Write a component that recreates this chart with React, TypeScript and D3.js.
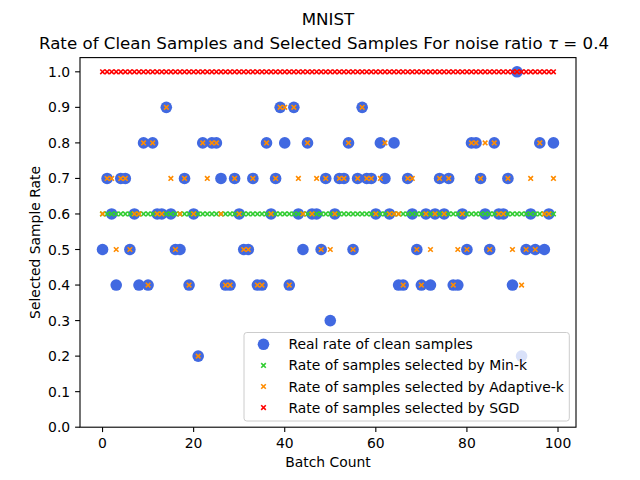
import React from 'react';
import * as d3 from 'd3';

// Real rate of clean samples per batch (null = no point drawn)
const realRate: (number | null)[] = [
  0.5, 0.7, 0.6, 0.4, 0.7, 0.7, 0.5, 0.6, 0.4, 0.8,
  0.4, 0.8, 0.6, 0.6, 0.9, 0.6, 0.5, 0.5, 0.7, 0.4,
  0.6, 0.2, 0.8, null, 0.8, 0.8, 0.7, 0.4, 0.4, 0.7,
  0.6, 0.5, 0.5, 0.7, 0.4, 0.4, 0.8, 0.6, 0.7, 0.9,
  0.8, 0.4, 0.9, 0.6, 0.5, 0.8, 0.6, 0.6, 0.5, 0.7,
  0.3, 0.6, 0.7, 0.7, 0.8, 0.5, 0.7, 0.9, 0.7, 0.7,
  0.6, 0.8, 0.7, 0.6, 0.8, 0.4, 0.4, 0.7, 0.6, 0.5,
  0.4, 0.6, 0.4, 0.6, 0.7, 0.6, 0.7, 0.4, 0.4, 0.6,
  0.5, 0.8, 0.8, 0.7, 0.6, 0.5, 0.8, 0.6, 0.6, 0.7,
  0.4, 1.0, 0.2, 0.5, 0.6, 0.5, 0.8, 0.5, 0.6, 0.8,
];

const minKRate: number[] = [
  0.6, 0.6, 0.6, 0.6, 0.6, 0.6, 0.6, 0.6, 0.6, 0.6,
  0.6, 0.6, 0.6, 0.6, 0.6, 0.6, 0.6, 0.6, 0.6, 0.6,
  0.6, 0.6, 0.6, 0.6, 0.6, 0.6, 0.6, 0.6, 0.6, 0.6,
  0.6, 0.6, 0.6, 0.6, 0.6, 0.6, 0.6, 0.6, 0.6, 0.6,
  0.6, 0.6, 0.6, 0.6, 0.6, 0.6, 0.6, 0.6, 0.6, 0.6,
  0.6, 0.6, 0.6, 0.6, 0.6, 0.6, 0.6, 0.6, 0.6, 0.6,
  0.6, 0.6, 0.6, 0.6, 0.6, 0.6, 0.6, 0.6, 0.6, 0.6,
  0.6, 0.6, 0.6, 0.6, 0.6, 0.6, 0.6, 0.6, 0.6, 0.6,
  0.6, 0.6, 0.6, 0.6, 0.6, 0.6, 0.6, 0.6, 0.6, 0.6,
  0.6, 0.6, 0.6, 0.6, 0.6, 0.6, 0.6, 0.6, 0.6, 0.6,
];

const adaptiveKRate: number[] = [
  0.6, 0.7, 0.7, 0.5, 0.7, 0.7, 0.5, 0.6, 0.6, 0.8,
  0.4, 0.8, 0.6, 0.6, 0.9, 0.7, 0.5, 0.6, 0.7, 0.4,
  0.6, 0.2, 0.8, 0.7, 0.8, 0.8, 0.6, 0.4, 0.4, 0.7,
  0.6, 0.5, 0.5, 0.7, 0.4, 0.4, 0.8, 0.6, 0.7, 0.9,
  0.9, 0.4, 0.9, 0.7, 0.6, 0.8, 0.6, 0.7, 0.5, 0.7,
  0.5, 0.6, 0.7, 0.7, 0.8, 0.5, 0.7, 0.9, 0.7, 0.7,
  0.6, 0.7, 0.8, 0.6, 0.6, 0.6, 0.4, 0.7, 0.7, 0.5,
  0.4, 0.6, 0.5, 0.6, 0.7, 0.6, 0.7, 0.4, 0.5, 0.6,
  0.5, 0.8, 0.8, 0.7, 0.8, 0.5, 0.8, 0.6, 0.6, 0.7,
  0.5, 1.0, 0.4, 0.5, 0.7, 0.5, 0.8, 0.6, 0.6, 0.7,
];

const sgdRate: number[] = [
  1.0, 1.0, 1.0, 1.0, 1.0, 1.0, 1.0, 1.0, 1.0, 1.0,
  1.0, 1.0, 1.0, 1.0, 1.0, 1.0, 1.0, 1.0, 1.0, 1.0,
  1.0, 1.0, 1.0, 1.0, 1.0, 1.0, 1.0, 1.0, 1.0, 1.0,
  1.0, 1.0, 1.0, 1.0, 1.0, 1.0, 1.0, 1.0, 1.0, 1.0,
  1.0, 1.0, 1.0, 1.0, 1.0, 1.0, 1.0, 1.0, 1.0, 1.0,
  1.0, 1.0, 1.0, 1.0, 1.0, 1.0, 1.0, 1.0, 1.0, 1.0,
  1.0, 1.0, 1.0, 1.0, 1.0, 1.0, 1.0, 1.0, 1.0, 1.0,
  1.0, 1.0, 1.0, 1.0, 1.0, 1.0, 1.0, 1.0, 1.0, 1.0,
  1.0, 1.0, 1.0, 1.0, 1.0, 1.0, 1.0, 1.0, 1.0, 1.0,
  1.0, 1.0, 1.0, 1.0, 1.0, 1.0, 1.0, 1.0, 1.0, 1.0,
];

const xTicks = [0, 20, 40, 60, 80, 100];
const yTicks = [0.0, 0.1, 0.2, 0.3, 0.4, 0.5, 0.6, 0.7, 0.8, 0.9, 1.0];

const legendLabels = [
  'Real rate of clean samples',
  'Rate of samples selected by Min-k',
  'Rate of samples selected by Adaptive-k',
  'Rate of samples selected by SGD',
];

const BLUE = '#4169e1';
const GREEN = '#32cd32';
const ORANGE = '#ff8c00';
const RED = '#ff0000';

const W = 640;
const H = 480;
const left = 80;
const right = 576;
const top = 57.6;
const bottom = 427.2;
const FONT = 'DejaVu Sans, sans-serif';

const xScale = d3.scaleLinear().domain([-4.95, 103.95]).range([left, right]);
const yScale = d3.scaleLinear().domain([0, 1.04]).range([bottom, top]);

const Cross = ({ cx, cy, color, s = 2.3 }: { cx: number; cy: number; color: string; s?: number }) => (
  <path
    d={`M${cx - s},${cy - s}L${cx + s},${cy + s}M${cx - s},${cy + s}L${cx + s},${cy - s}`}
    stroke={color}
    strokeWidth={1.6}
    fill="none"
  />
);

const App: React.FC = () => {
  const legendX = 244;
  const legendY = 332.5;
  const rowY = (i: number) => 344.3 + i * 21.1;

  return (
    <div style={{ position: 'absolute', left: 0, top: 0, background: '#fff' }}>
      <svg width={W} height={H} style={{ display: 'block', fontFamily: FONT }}>
        <rect x={0} y={0} width={W} height={H} fill="#fff" />

        {/* title */}
        <text x={(left + right) / 2} y={25} textAnchor="middle" fontSize={16.67} fill="#000">MNIST</text>
        <text x={(left + right) / 2 - 4} y={48.5} textAnchor="middle" fontSize={16.67} fill="#000">
          Rate of Clean Samples and Selected Samples For noise ratio{' '}
          <tspan fontStyle="italic">τ</tspan>
          <tspan> = 0.4</tspan>
        </text>

        {/* scatter series */}
        <g>
          {realRate.map((v, i) =>
            v === null ? null : <circle key={`b${i}`} cx={xScale(i)} cy={yScale(v)} r={5.8} fill={BLUE} />
          )}
        </g>
        <g>
          {minKRate.map((v, i) => <Cross key={`g${i}`} cx={xScale(i)} cy={yScale(v)} color={GREEN} />)}
        </g>
        <g>
          {adaptiveKRate.map((v, i) => <Cross key={`o${i}`} cx={xScale(i)} cy={yScale(v)} color={ORANGE} />)}
        </g>
        <g>
          {sgdRate.map((v, i) => <Cross key={`r${i}`} cx={xScale(i)} cy={yScale(v)} color={RED} />)}
        </g>

        {/* frame */}
        <rect x={left} y={top} width={right - left} height={bottom - top} fill="none" stroke="#000" strokeWidth={1.1} />

        {/* x axis */}
        {xTicks.map(t => (
          <g key={`xt${t}`}>
            <line x1={xScale(t)} x2={xScale(t)} y1={bottom} y2={bottom + 4.9} stroke="#000" strokeWidth={1.1} />
            <text x={xScale(t)} y={bottom + 20.3} textAnchor="middle" fontSize={13.9} fill="#000">{t}</text>
          </g>
        ))}
        <text x={(left + right) / 2} y={467} textAnchor="middle" fontSize={13.9} fill="#000">Batch Count</text>

        {/* y axis */}
        {yTicks.map(t => (
          <g key={`yt${t}`}>
            <line x1={left - 4.9} x2={left} y1={yScale(t)} y2={yScale(t)} stroke="#000" strokeWidth={1.1} />
            <text x={left - 9.8} y={yScale(t)} dy="0.36em" textAnchor="end" fontSize={13.9} fill="#000">
              {t.toFixed(1)}
            </text>
          </g>
        ))}
        <text
          transform={`translate(39.5,${(top + bottom) / 2}) rotate(-90)`}
          textAnchor="middle"
          fontSize={13.9}
          fill="#000"
        >
          Selected Sample Rate
        </text>

        {/* legend */}
        <rect
          x={legendX}
          y={legendY}
          width={569.3 - legendX}
          height={421 - legendY}
          rx={2.8}
          fill="#fff"
          fillOpacity={0.8}
          stroke="#cccccc"
          strokeWidth={1}
        />
        <circle cx={263.5} cy={rowY(0)} r={5.8} fill={BLUE} />
        <Cross cx={263.5} cy={rowY(1)} color={GREEN} />
        <Cross cx={263.5} cy={rowY(2)} color={ORANGE} />
        <Cross cx={263.5} cy={rowY(3)} color={RED} />
        {legendLabels.map((label, i) => (
          <text key={label} x={288.5} y={rowY(i)} dy="0.36em" fontSize={13.9} fill="#000">{label}</text>
        ))}
      </svg>
    </div>
  );
};

export default App;
